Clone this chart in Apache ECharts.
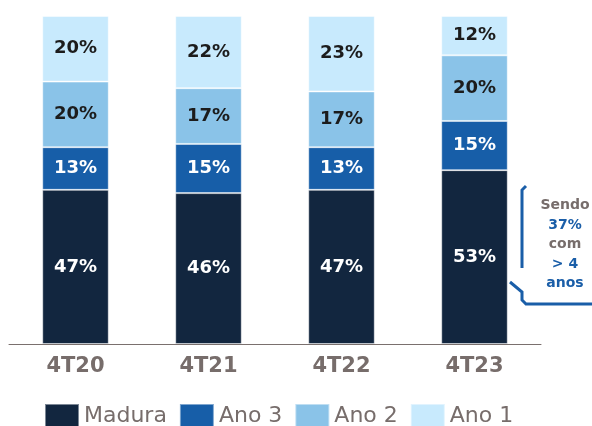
<!DOCTYPE html>
<html>
<head>
<meta charset="utf-8">
<script src="https://cdn.jsdelivr.net/npm/echarts@6/dist/echarts.min.js"></script>
<style>
  html, body { margin: 0; padding: 0; background: #fff; }
</style>
</head>
<body>
<div id="main" style="width: 592px; height: 426px;"></div>
<script>
// dados
var categories = ['4T20', '4T21', '4T22', '4T23'];
var madura = [47, 46, 47, 53];
var ano3 = [13, 15, 13, 15];
var ano2 = [20, 17, 17, 20];
var ano1 = [20, 22, 23, 12];

var fonte = 'DejaVu Sans';
var azul = '#1a5ea8';
var cinza = '#776d6b';

function serie (nome, dados, cor, corTexto) {
  return {
    name: nome,
    type: 'bar',
    stack: 'total',
    barWidth: '50%',
    data: dados,
    itemStyle: {
      color: cor,
      borderColor: 'rgba(255,255,255,0.45)',
      borderWidth: 1
    },
    label: {
      show: true,
      position: 'inside',
      color: corTexto,
      fontFamily: fonte,
      fontWeight: 'bold',
      fontSize: 18,
      formatter: '{c}%'
    }
  }
}

var myChart = echarts.init(document.getElementById('main'))
myChart.setOption({
  animation: false,
  grid: {
    left: 9,
    right: 51,
    top: 16,
    bottom: 82
  },
  xAxis: {
    type: 'category',
    data: categories,
    axisTick: { show: false },
    axisLine: { lineStyle: { color: '#7a706e', width: 1 } },
    axisLabel: {
      color: cinza,
      fontFamily: fonte,
      fontWeight: 'bold',
      fontSize: 21,
      margin: 12
    }
  },
  yAxis: {
    type: 'value',
    min: 0,
    max: 100,
    show: false
  },
  legend: {
    top: 403,
    left: 44,
    padding: 0,
    itemWidth: 34,
    itemHeight: 24,
    itemGap: 12,
    icon: 'rect',
    textStyle: {
      color: cinza,
      fontFamily: fonte,
      fontSize: 22
    },
    data: ['Madura', 'Ano 3', 'Ano 2', 'Ano 1']
  },
  series: [
    serie('Madura', madura, '#12263f', '#ffffff'),
    serie('Ano 3', ano3, '#175ea8', '#ffffff'),
    serie('Ano 2', ano2, '#8ac3e8', '#1c1c1c'),
    serie('Ano 1', ano1, '#c8eafd', '#1c1c1c')
  ],
  graphic: [
    // chave do destaque
    {
      type: 'polyline',
      shape: { points: [[526, 186], [522, 190], [522, 268]] },
      style: { stroke: azul, lineWidth: 3, fill: null }
    },
    {
      type: 'polyline',
      shape: { points: [[510, 282], [522, 292], [522, 300], [526, 304], [592, 304]] },
      style: { stroke: azul, lineWidth: 3, fill: null }
    },
    {
      type: 'text',
      x: 565,
      y: 196,
      style: {
        rich: {
          g: { fill: cinza, fontFamily: fonte, fontWeight: 'bold', fontSize: 14, lineHeight: 19.5 },
          b: { fill: azul, fontFamily: fonte, fontWeight: 'bold', fontSize: 14, lineHeight: 19.5 }
        },
        text: '{g|Sendo}\n{b|37%}\n{g|com}\n{b|> 4}\n{b|anos}',
        align: 'center',
        verticalAlign: 'top'
      }
    }
  ]
})
window.onresize = myChart.resize
</script>
</body>
</html>
